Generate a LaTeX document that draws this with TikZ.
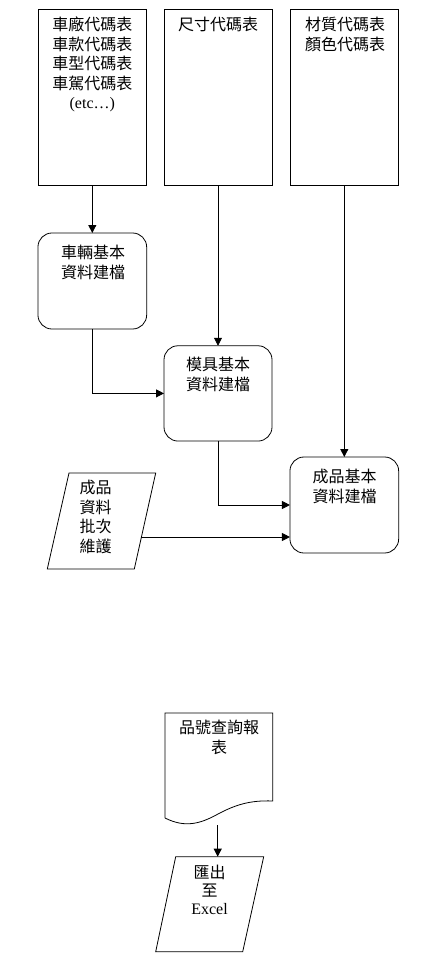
\documentclass[tikz,border=0pt]{standalone}
\usepackage{fontspec}
\setmainfont{Liberation Serif}
\newfontfamily\cjkfont{Noto Sans CJK TC}
\usetikzlibrary{arrows.meta,calc}
\tikzset{
  box/.style={draw, rectangle, inner sep=0pt, outer sep=0pt, line width=.8pt},
  rbox/.style={box, rounded corners=14pt},
  shp/.style={draw, line width=.8pt, line join=miter},
  lbl/.style={anchor=north, inner sep=0pt, align=center, font=\cjkfont\fontsize{16}{19.5}\selectfont},
  arr/.style={-{Triangle[length=8pt,width=8pt]}, line width=.8pt},
}
\begin{document}
\begin{tikzpicture}[x=1pt,y=-1pt]
\useasboundingbox (0,0) rectangle (432,960);
% top code-table boxes
\node[box, minimum width=108.7pt, minimum height=176.7pt] (b1) at (92.3,97.3) {};
\node[box, minimum width=108pt, minimum height=176.7pt] (b2) at (218,97.3) {};
\node[box, minimum width=108.7pt, minimum height=176.7pt] (b3) at (344.3,97.3) {};
\node[lbl] (t1) at (92.3,17) {車廠代碼表\\車款代碼表\\車型代碼表\\車駕代碼表\\{\rmfamily (etc…)}};
\node[lbl] (t2) at (218,17) {尺寸代碼表};
\node[lbl] (t3) at (345,17) {材質代碼表\\顏色代碼表};
% rounded process boxes
\node[rbox, minimum width=108.7pt, minimum height=96pt] (r1) at (92.3,281) {};
\node[rbox, minimum width=108pt, minimum height=95.3pt] (r2) at (218,393.4) {};
\node[rbox, minimum width=108.7pt, minimum height=96pt] (r3) at (344.3,505) {};
\node[lbl] (t4) at (93,245) {車輛基本\\資料建檔};
\node[lbl] (t5) at (218,357) {模具基本\\資料建檔};
\node[lbl] (t6) at (344.6,469) {成品基本\\資料建檔};
% parallelogram: batch maintenance
\coordinate (p1a) at (69,473);
\coordinate (p1b) at (155.7,473);
\coordinate (p1c) at (134.3,569);
\coordinate (p1d) at (47.3,569);
\draw[shp] (p1a) -- (p1b) -- (p1c) -- (p1d) -- cycle;
\coordinate (p1out) at (141.4,537);
\node[lbl] (t7) at (95.5,480) {成品\\資料\\批次\\維護};
% document: report
\coordinate (d1a) at (165,713);
\coordinate (d1b) at (272.7,713);
\coordinate (d1c) at (272.7,801);
\coordinate (d1d) at (165,818);
\draw[shp] (d1d) -- (d1a) -- (d1b) -- (d1c)
  .. controls (250,800) and (235,805) .. (218,814)
  .. controls (200,824) and (185,828) .. (d1d);
\coordinate (d1out) at (217.7,825);
\node[lbl] (t8) at (219,720) {品號查詢報\\表};
% parallelogram: export
\coordinate (p2a) at (175.7,856.7);
\coordinate (p2b) at (263.7,856.7);
\coordinate (p2c) at (242.7,951.7);
\coordinate (p2d) at (155.7,951.7);
\draw[shp] (p2a) -- (p2b) -- (p2c) -- (p2d) -- cycle;
\coordinate (p2in) at (217.7,856.7);
\node[lbl, font=\cjkfont\fontsize{16}{18}\selectfont] (t9) at (209.5,865) {匯出\\至\\{\rmfamily Excel}};
% connectors
\draw[arr] (b1.south) -- (r1.north);
\draw[arr] (b2.south) -- (r2.north);
\draw[arr] (b3.south) -- (r3.north);
\draw[arr] (r1.south) |- (r2.west);
\draw[arr] (r2.south) |- (r3.west);
\draw[arr] (p1out) -- (p1out -| r3.west);
\draw[arr] (d1out) -- (p2in);
\end{tikzpicture}
\end{document}
